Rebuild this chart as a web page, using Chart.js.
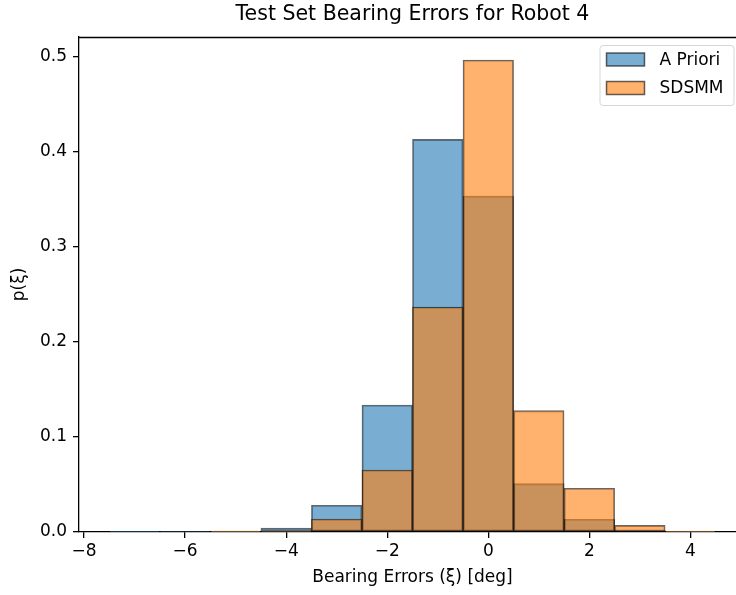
<!DOCTYPE html>
<html>
<head>
<meta charset="utf-8">
<script src="https://cdn.jsdelivr.net/npm/chart.js@4/dist/chart.umd.min.js"></script>
<style>
  html, body { margin: 0; padding: 0; overflow: hidden; background: #fff; }
  canvas { display: block; }
</style>
</head>
<body>
<canvas id="histChart" width="746" height="595"></canvas>
<script>
// histogram bins (width 1 deg), density per bin
const binCenters = [-7, -6, -5, -4, -3, -2, -1, 0, 1, 2, 3, 4];
const aPriori = [0.0002, 0.0004, 0.0009, 0.0042, 0.0281, 0.1337, 0.4133, 0.3537, 0.0509, 0.0134, 0.0018, 0.0010];
const sdsmm   = [0, 0, 0.0002, 0.0008, 0.0137, 0.0653, 0.2368, 0.4968, 0.1277, 0.0460, 0.0070, 0.0002];
const seriesNames = ['A Priori', 'SDSMM'];
const xTicks = [-8, -6, -4, -2, 0, 2, 4];
const yTicks = [0, 0.1, 0.2, 0.3, 0.4, 0.5];

const blue = 'rgba(31, 119, 180, 0.6)';
const orange = 'rgba(255, 127, 14, 0.6)';
const edge = 'rgba(0, 0, 0, 0.6)';

Chart.defaults.font.family = 'DejaVu Sans';
Chart.defaults.color = '#000';

const toPoints = vals => binCenters.map((x, i) => ({ x: x, y: vals[i] }));
const fmtMinus = v => (v < 0 ? '\u2212' + Math.abs(v) : String(v));

// top/right spines like a boxed axes
const spines = {
  id: 'spines',
  afterDraw(chart) {
    const { ctx, chartArea: a } = chart;
    ctx.save();
    ctx.strokeStyle = '#000';
    ctx.lineWidth = 1.3;
    ctx.beginPath();
    ctx.moveTo(a.left, a.top + 0.5);
    ctx.lineTo(a.right, a.top + 0.5);
    ctx.moveTo(a.right - 0.5, a.top);
    ctx.lineTo(a.right - 0.5, a.bottom);
    ctx.stroke();
    ctx.restore();
  }
};

// legend box inside the plot, upper right
const boxLegend = {
  id: 'boxLegend',
  afterDraw(chart) {
    const { ctx, chartArea: a } = chart;
    const w = 134, h = 60;
    const x = a.right - 12.5 - w, y = a.top + 8;
    ctx.save();
    ctx.beginPath();
    ctx.roundRect(x + 0.5, y + 0.5, w, h, 3);
    ctx.fillStyle = 'rgba(255,255,255,0.8)';
    ctx.fill();
    ctx.strokeStyle = '#d6d6d6';
    ctx.lineWidth = 1;
    ctx.stroke();
    ctx.font = '17px "DejaVu Sans"';
    ctx.textBaseline = 'middle';
    chart.data.datasets.forEach((ds, i) => {
      const cy = y + 14.5 + i * 28.5;
      ctx.fillStyle = '#fff';
      ctx.fillRect(x + 7, cy - 6.5, 38, 13);
      ctx.fillStyle = ds.backgroundColor;
      ctx.fillRect(x + 7, cy - 6.5, 38, 13);
      ctx.strokeStyle = edge;
      ctx.lineWidth = 1.5;
      ctx.strokeRect(x + 7, cy - 6.5, 38, 13);
      ctx.fillStyle = '#000';
      ctx.fillText(ds.label, x + 60, cy + 1);
    });
    ctx.restore();
  }
};

new Chart(document.getElementById('histChart').getContext('2d'), {
  type: 'bar',
  data: {
    datasets: [
      {
        label: seriesNames[0],
        data: toPoints(aPriori),
        backgroundColor: blue,
        borderColor: edge,
        borderWidth: 1.2,
        borderSkipped: false,
        order: 1
      },
      {
        label: seriesNames[1],
        data: toPoints(sdsmm),
        backgroundColor: orange,
        borderColor: edge,
        borderWidth: 1.2,
        borderSkipped: false,
        order: 0
      }
    ]
  },
  options: {
    responsive: false,
    animation: false,
    grouped: false,
    barPercentage: 1,
    categoryPercentage: 1,
    layout: { padding: 0 },
    plugins: {
      legend: { display: false },
      tooltip: { enabled: false },
      title: {
        display: true,
        text: 'Test Set Bearing Errors for Robot 4',
        fullSize: false,
        font: { size: 20.5, weight: 'normal' },
        padding: { top: 2.2, bottom: 10.2 }
      }
    },
    scales: {
      x: {
        type: 'linear',
        offset: false,
        min: -8.1,
        max: 5.1,
        afterBuildTicks: s => { s.ticks = xTicks.map(v => ({ value: v })); },
        afterFit: s => { s.height = 63; },
        grid: { offset: false, drawOnChartArea: false, drawTicks: true, tickLength: 6, color: '#000', lineWidth: 1.3 },
        border: { color: '#000', width: 1.3 },
        ticks: { font: { size: 17 }, padding: 3, maxRotation: 0, callback: v => fmtMinus(v) },
        title: {
          display: true,
          text: 'Bearing Errors (ξ) [deg]',
          font: { size: 17 },
          padding: { top: 0, bottom: 6.8 }
        }
      },
      y: {
        min: 0,
        max: 0.5211,
        afterBuildTicks: s => { s.ticks = yTicks.map(v => ({ value: v })); },
        afterFit: s => { s.width = 79; },
        grid: { drawOnChartArea: false, drawTicks: true, tickLength: 6, color: '#000', lineWidth: 1.3 },
        border: { color: '#000', width: 1.3 },
        ticks: { font: { size: 17 }, padding: 6, callback: v => v.toFixed(1) },
        title: {
          display: true,
          text: 'p(ξ)',
          font: { size: 17 },
          padding: { top: 9.8, bottom: 0 }
        }
      }
    }
  },
  plugins: [spines, boxLegend]
});
</script>
</body>
</html>
